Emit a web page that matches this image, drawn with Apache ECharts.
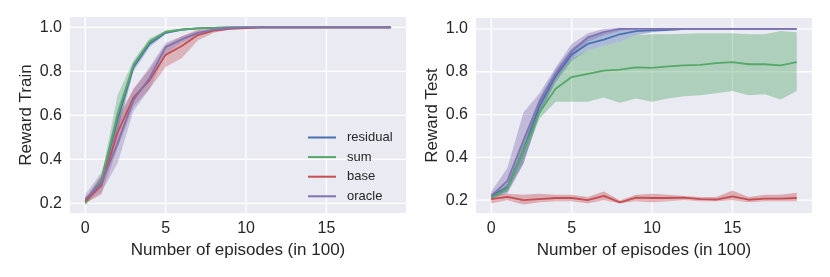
<!DOCTYPE html>
<html><head><meta charset="utf-8">
<script src="https://cdn.jsdelivr.net/npm/echarts@6/dist/echarts.min.js"></script>
<style>html,body{margin:0;padding:0;background:#fff}#c{width:830px;height:277px}</style>
</head><body><div id="c"></div>
<script>
const episodes = [0,1,2,3,4,5,6,7,8,9,10,11,12,13,14,15,16,17,18,19];
const methods = ['residual','sum','base','oracle'];
const colors = ['#4C72B0','#55A868','#C44E52','#8172B2'];

// Reward Train: mean, lower, upper
const trainResidual = [0.21,0.30,0.58,0.82,0.925,0.975,0.99,0.995,0.998,1,1,1,1,1,1,1,1,1,1,1];
const trainResidualLo = [0.20,0.28,0.53,0.80,0.91,0.97,0.985,0.993,0.997,1,1,1,1,1,1,1,1,1,1,1];
const trainResidualHi = [0.22,0.32,0.63,0.84,0.94,0.98,0.993,0.997,1,1,1,1,1,1,1,1,1,1,1,1];
const trainSum = [0.20,0.30,0.60,0.83,0.935,0.98,0.99,0.995,0.998,1,1,1,1,1,1,1,1,1,1,1];
const trainSumLo = [0.19,0.28,0.52,0.81,0.92,0.975,0.985,0.993,0.997,1,1,1,1,1,1,1,1,1,1,1];
const trainSumHi = [0.21,0.32,0.69,0.85,0.95,0.985,0.995,0.998,1,1,1,1,1,1,1,1,1,1,1,1];
const trainBase = [0.21,0.28,0.52,0.68,0.76,0.875,0.915,0.965,0.985,0.993,0.997,1,1,1,1,1,1,1,1,1];
const trainBaseLo = [0.20,0.24,0.45,0.64,0.72,0.82,0.86,0.94,0.975,0.99,0.995,1,1,1,1,1,1,1,1,1];
const trainBaseHi = [0.22,0.33,0.59,0.72,0.81,0.92,0.96,0.99,0.995,0.997,1,1,1,1,1,1,1,1,1,1];
const trainOracle = [0.22,0.29,0.47,0.67,0.77,0.91,0.945,0.975,0.99,0.997,1,1,1,1,1,1,1,1,1,1];
const trainOracleLo = [0.20,0.25,0.38,0.62,0.72,0.88,0.93,0.965,0.985,0.995,1,1,1,1,1,1,1,1,1,1];
const trainOracleHi = [0.24,0.34,0.57,0.72,0.82,0.93,0.96,0.985,0.995,1,1,1,1,1,1,1,1,1,1,1];

// Reward Test: mean, lower, upper
const testResidual = [0.22,0.26,0.43,0.64,0.78,0.88,0.93,0.95,0.975,0.99,0.993,0.996,1,1,1,1,1,1,1,1];
const testResidualLo = [0.21,0.24,0.37,0.60,0.75,0.85,0.90,0.92,0.94,0.97,0.985,0.99,0.995,1,1,1,1,1,1,1];
const testResidualHi = [0.23,0.28,0.48,0.68,0.81,0.91,0.96,0.98,1.0,1.0,1.0,1.0,1,1,1,1,1,1,1,1];
const testSum = [0.21,0.255,0.43,0.61,0.72,0.775,0.79,0.805,0.81,0.82,0.818,0.825,0.83,0.832,0.84,0.845,0.835,0.835,0.83,0.845];
const testSumLo = [0.20,0.24,0.39,0.58,0.66,0.66,0.66,0.68,0.655,0.675,0.66,0.675,0.685,0.69,0.70,0.71,0.69,0.695,0.67,0.71];
const testSumHi = [0.22,0.27,0.47,0.65,0.79,0.86,0.90,0.92,0.94,0.97,0.975,0.975,0.978,0.98,0.98,0.98,0.975,0.975,0.99,0.985];
const testBase = [0.205,0.215,0.20,0.205,0.21,0.21,0.20,0.22,0.19,0.212,0.21,0.21,0.212,0.205,0.203,0.218,0.202,0.207,0.207,0.21];
const testBaseLo = [0.185,0.20,0.18,0.19,0.195,0.195,0.185,0.20,0.185,0.195,0.19,0.195,0.20,0.195,0.195,0.20,0.19,0.195,0.195,0.195];
const testBaseHi = [0.225,0.23,0.225,0.23,0.225,0.225,0.215,0.24,0.20,0.225,0.23,0.225,0.22,0.215,0.215,0.245,0.215,0.225,0.225,0.235];
const testOracle = [0.22,0.29,0.48,0.66,0.79,0.895,0.96,0.985,1.0,1,1,1,1,1,1,1,1,1,1,1];
const testOracleLo = [0.21,0.23,0.37,0.60,0.76,0.86,0.94,0.97,0.99,1,1,1,1,1,1,1,1,1,1,1];
const testOracleHi = [0.24,0.35,0.61,0.70,0.82,0.93,0.98,1.0,1.005,1,1,1,1,1,1,1,1,1,1,1];

const xTicks = [0,5,10,15];
const yTicks = [0.2,0.4,0.6,0.8,1.0];

const trainData = [[trainResidual,trainResidualLo,trainResidualHi],[trainSum,trainSumLo,trainSumHi],[trainBase,trainBaseLo,trainBaseHi],[trainOracle,trainOracleLo,trainOracleHi]];
const testData = [[testResidual,testResidualLo,testResidualHi],[testSum,testSumLo,testSumHi],[testBase,testBaseLo,testBaseHi],[testOracle,testOracleLo,testOracleHi]];

const FONT = 'Liberation Sans, Arial, sans-serif';
const TXT = '#262626';

function xAxis(gi){
  return {
    type:'value', gridIndex:gi, min:-0.95, max:19.95,
    name:'Number of episodes (in 100)', nameLocation:'middle', nameGap:27,
    nameTextStyle:{fontFamily:FONT, fontSize:17, color:TXT},
    axisLine:{show:false},
    axisTick:{show:false, customValues:xTicks},
    axisLabel:{fontFamily:FONT, fontSize:16, color:TXT, margin:8, customValues:xTicks,
      formatter:v => String(Math.round(v))},
    splitLine:{show:false}
  };
}
function yAxis(gi, name, min, max){
  return {
    type:'value', gridIndex:gi, min:min, max:max,
    name:name, nameLocation:'middle', nameGap:35, nameRotate:90,
    nameTextStyle:{fontFamily:FONT, fontSize:17, color:TXT},
    axisLine:{show:false},
    axisTick:{show:false, customValues:yTicks},
    axisLabel:{fontFamily:FONT, fontSize:16, color:TXT, margin:8, customValues:yTicks,
      formatter:v => v.toFixed(1)},
    splitLine:{show:false}
  };
}

const series = [];
function addGridLines(gi){
  // white grid lines at the tick values, placed through the axes' scales
  series.push({
    type:'custom', xAxisIndex:gi, yAxisIndex:gi, silent:true, z:1,
    data:[[0,0.5]],
    renderItem:(params, api) => {
      const cs = params.coordSys;
      const children = [];
      xTicks.forEach(t => {
        const p = api.coord([t, 0.5]);
        children.push({type:'line', shape:{x1:p[0], y1:cs.y, x2:p[0], y2:cs.y+cs.height},
          style:{stroke:'#ffffff', lineWidth:1.3}});
      });
      yTicks.forEach(t => {
        const p = api.coord([5, t]);
        children.push({type:'line', shape:{x1:cs.x, y1:p[1], x2:cs.x+cs.width, y2:p[1]},
          style:{stroke:'#ffffff', lineWidth:1.3}});
      });
      return {type:'group', children};
    }
  });
}
function addChart(gi, data, alpha){
  data.forEach((d, i) => {
    const [mean, lo, hi] = d;
    series.push({
      type:'custom', xAxisIndex:gi, yAxisIndex:gi, silent:true, z:2,
      data: episodes.map((x,k) => [x, lo[k], hi[k]]),
      encode:{x:0, y:[1,2]},
      renderItem:(params, api) => {
        if (params.dataIndex !== 0) return null;
        const pts = [];
        episodes.forEach((x,k) => pts.push(api.coord([x, hi[k]])));
        for (let k = episodes.length-1; k >= 0; k--) pts.push(api.coord([episodes[k], lo[k]]));
        return {type:'polygon', shape:{points:pts}, style:{fill:colors[i], opacity:alpha}};
      }
    });
    series.push({
      name:methods[i], type:'line', xAxisIndex:gi, yAxisIndex:gi,
      showSymbol:false, z:3, color:colors[i],
      lineStyle:{color:colors[i], width:1.8},
      data: episodes.map((x,k) => [x, mean[k]])
    });
  });
}
addGridLines(0);
addGridLines(1);
addChart(0, trainData, 0.35);
addChart(1, testData, 0.4);

const chart = echarts.init(document.getElementById('c'), null, {renderer:'canvas'});
chart.setOption({
  animation:false,
  backgroundColor:'#ffffff',
  grid:[
    {left:70, top:17, width:336, height:196, show:true, backgroundColor:'#EAEAF2', borderWidth:0},
    {left:476, top:18, width:336, height:195, show:true, backgroundColor:'#EAEAF2', borderWidth:0}
  ],
  xAxis:[xAxis(0), xAxis(1)],
  yAxis:[yAxis(0,'Reward Train',0.156,1.047), yAxis(1,'Reward Test',0.14,1.051)],
  legend:{
    data:methods, orient:'vertical', left:308, top:131, itemGap:6.6, padding:0,
    itemWidth:28, itemHeight:2, icon:'rect',
    textStyle:{fontFamily:FONT, fontSize:13, color:TXT, padding:[0,0,0,6]},
    selectedMode:false
  },
  series:series
});
</script></body></html>
